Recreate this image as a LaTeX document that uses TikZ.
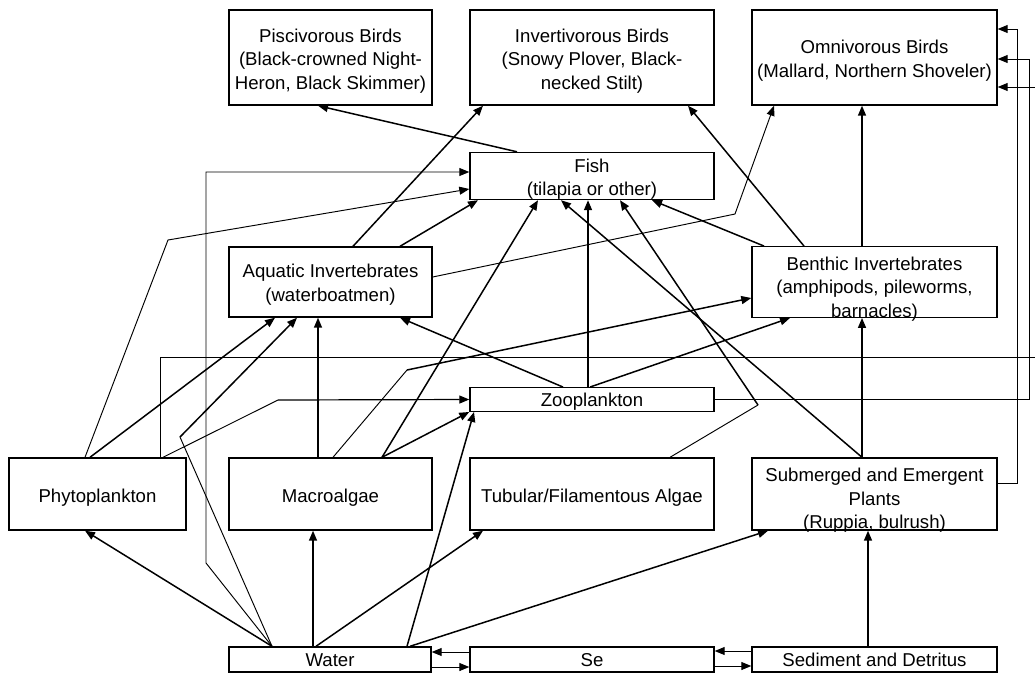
\documentclass[tikz,border=0pt]{standalone}
\usepackage{fontspec}
\setmainfont{Liberation Sans}
\usetikzlibrary{arrows.meta}
% text block drawn lower inside its box without changing the box size
\newcommand\lowtext[2]{\raisebox{#1}[\height][\depth]{\begin{tabular}{@{}c@{}}#2\end{tabular}}}

\begin{document}
\begin{tikzpicture}[x=1pt,y=-1pt,
  box/.style={draw=black, line width=1.4pt, rectangle, inner sep=0pt,
    font=\fontsize{18.6}{23.5}\selectfont, align=center},
  tip/.style={-{Triangle[length=10pt,width=8pt]}},
  thk/.style={line width=1.5pt, tip},
  thkline/.style={line width=1.5pt},
  thn/.style={line width=0.95pt, tip},
  thnline/.style={line width=0.95pt},
]
\useasboundingbox (0,0) rectangle (1035,675);
\fill[white] (0,0) rectangle (1035,675);

% ---- boxes ----
\node[box, minimum width=203pt, minimum height=95pt] (pisc) at (330.5,57.5)
  {\lowtext{-3.5pt}{Piscivorous Birds\\(Black-crowned Night-\\Heron, Black Skimmer)}};
\node[box, minimum width=244pt, minimum height=95pt] (invb) at (592,57.5)
  {\lowtext{-3.5pt}{Invertivorous Birds\\(Snowy Plover, Black-\\necked Stilt)}};
\node[box, minimum width=245pt, minimum height=95pt] (omni) at (874.5,57.5)
  {\lowtext{-3.5pt}{Omnivorous Birds\\(Mallard, Northern Shoveler)}};
\node[box, minimum width=244pt, minimum height=46pt] (fish) at (592,176)
  {\lowtext{-3.5pt}{Fish\\(tilapia or other)}};
\node[box, minimum width=203pt, minimum height=70pt] (aqua) at (330.5,282)
  {\lowtext{-3pt}{Aquatic Invertebrates\\(waterboatmen)}};
\node[box, minimum width=245pt, minimum height=70pt] (bent) at (874.5,282)
  {\lowtext{-7pt}{Benthic Invertebrates\\(amphipods, pileworms,\\barnacles)}};
\node[box, minimum width=244pt, minimum height=23pt] (zoo) at (592,399.5)
  {\lowtext{-2pt}{Zooplankton}};
\node[box, minimum width=177pt, minimum height=72pt] (phyto) at (97.5,494)
  {\lowtext{-3.5pt}{Phytoplankton}};
\node[box, minimum width=203pt, minimum height=72pt] (macro) at (330.5,494)
  {\lowtext{-3.5pt}{Macroalgae}};
\node[box, minimum width=244pt, minimum height=72pt] (tub) at (592,494)
  {\lowtext{-3.5pt}{Tubular/Filamentous Algae}};
\node[box, minimum width=245pt, minimum height=72pt] (sub) at (874.5,494)
  {\lowtext{-6.5pt}{Submerged and Emergent\\Plants\\(Ruppia, bulrush)}};
\node[box, minimum width=202pt, minimum height=25pt] (water) at (330,659.5)
  {\lowtext{-2.5pt}{Water}};
\node[box, minimum width=244pt, minimum height=25pt] (se) at (592,659.5)
  {\lowtext{-2.5pt}{Se}};
\node[box, minimum width=245pt, minimum height=25pt] (sed) at (874.5,659.5)
  {\lowtext{-2.5pt}{Sediment and Detritus}};

% ---- bend points ----
\coordinate (wa) at (180,437);
\coordinate (ma) at (407,370);
\coordinate (tf) at (758,405);
\coordinate (pz) at (278,400);

% ---- feeding links to the birds ----
\draw[thk] (fish.north -| 517,0) -- (pisc.south -| 318,0);
\draw[thk] (aqua.north -| 353,0) -- (invb.south -| 483,0);
\draw[thk] (bent.north -| 804,0) -- (invb.south -| 688,0);
\draw[thk] (bent.north -| 862,0) -- (omni.south -| 862,0);
\draw[thn] (aqua.east |- 0,277) -- (735,214) -- (omni.south -| 774,0);
\draw[thn] (zoo.east) -- (1029,399.5) -- (1029,59) -- (omni.east |- 0,59);
\draw[thn] (sub.east |- 0,483) -- (1017,483) -- (1017,29) -- (omni.east |- 0,29);
\draw[thn] (phyto.north -| 160,0) -- (160,357) -- (1040,357) -- (1040,87) -- (omni.east |- 0,87);

% ---- links to fish ----
\draw[thk] (aqua.north -| 400,0) -- (fish.south -| 478,0);
\draw[thn] (phyto.north -| 85,0) -- (168,240) -- (fish.west |- 0,189);
\draw[thn] (water.north -| 272,0) -- (206,563) -- (206,172) -- (fish.west |- 0,172);
\draw[thk] (macro.north -| 382,0) -- (fish.south -| 538,0);
\draw[thk] (sub.north -| 862,0) -- (fish.south -| 561,0);
\draw[thnline] (tub.north -| 670,0) -- (tf);
\draw[thk] (tf) -- (fish.south -| 620,0);
\draw[thk] (zoo.north -| 588,0) -- (fish.south -| 588,0);
\draw[thk] (bent.north -| 764,0) -- (fish.south -| 652,0);

% ---- links to the invertebrates ----
\draw[thnline] (water.north -| 272,0) -- (wa);
\draw[thk] (wa) -- (aqua.south -| 297,0);
\draw[thk] (phyto.north -| 90,0) -- (aqua.south -| 275,0);
\draw[thk] (macro.north -| 318,0) -- (aqua.south -| 318,0);
\draw[thk] (zoo.north -| 563,0) -- (aqua.south -| 400,0);
\draw[thnline] (macro.north -| 333,0) -- (ma);
\draw[thk] (ma) -- (bent.west |- 0,298);
\draw[thk] (zoo.north -| 590,0) -- (bent.south -| 790,0);
\draw[thk] (sub.north -| 862,0) -- (bent.south -| 862,0);

% ---- links to zooplankton ----
\draw[thnline] (phyto.north -| 163,0) -- (pz);
\draw[line width=1.2pt, tip] (pz) -- (zoo.west);
\draw[thk] (macro.north -| 382,0) -- (zoo.south west);
\draw[thk] (water.north -| 407,0) -- (zoo.south -| 474,0);

% ---- water and sediment to the producers ----
\draw[thk] (water.north -| 272,0) -- (phyto.south -| 85,0);
\draw[thk] (water.north -| 313,0) -- (macro.south -| 313,0);
\draw[thk] (water.north -| 316,0) -- (tub.south -| 483,0);
\draw[thk] (water.north -| 410,0) -- (sub.south -| 768,0);
\draw[thk] (sed.north -| 868,0) -- (sub.south -| 868,0);

% ---- exchange between water, Se and sediment ----
\draw[thn] (se.west |- 0,652) -- (water.east |- 0,652);
\draw[thn] (water.east |- 0,667) -- (se.west |- 0,667);
\draw[thn] (sed.west |- 0,651) -- (se.east |- 0,651);
\draw[thn] (se.east |- 0,666) -- (sed.west |- 0,666);
\end{tikzpicture}
\end{document}
